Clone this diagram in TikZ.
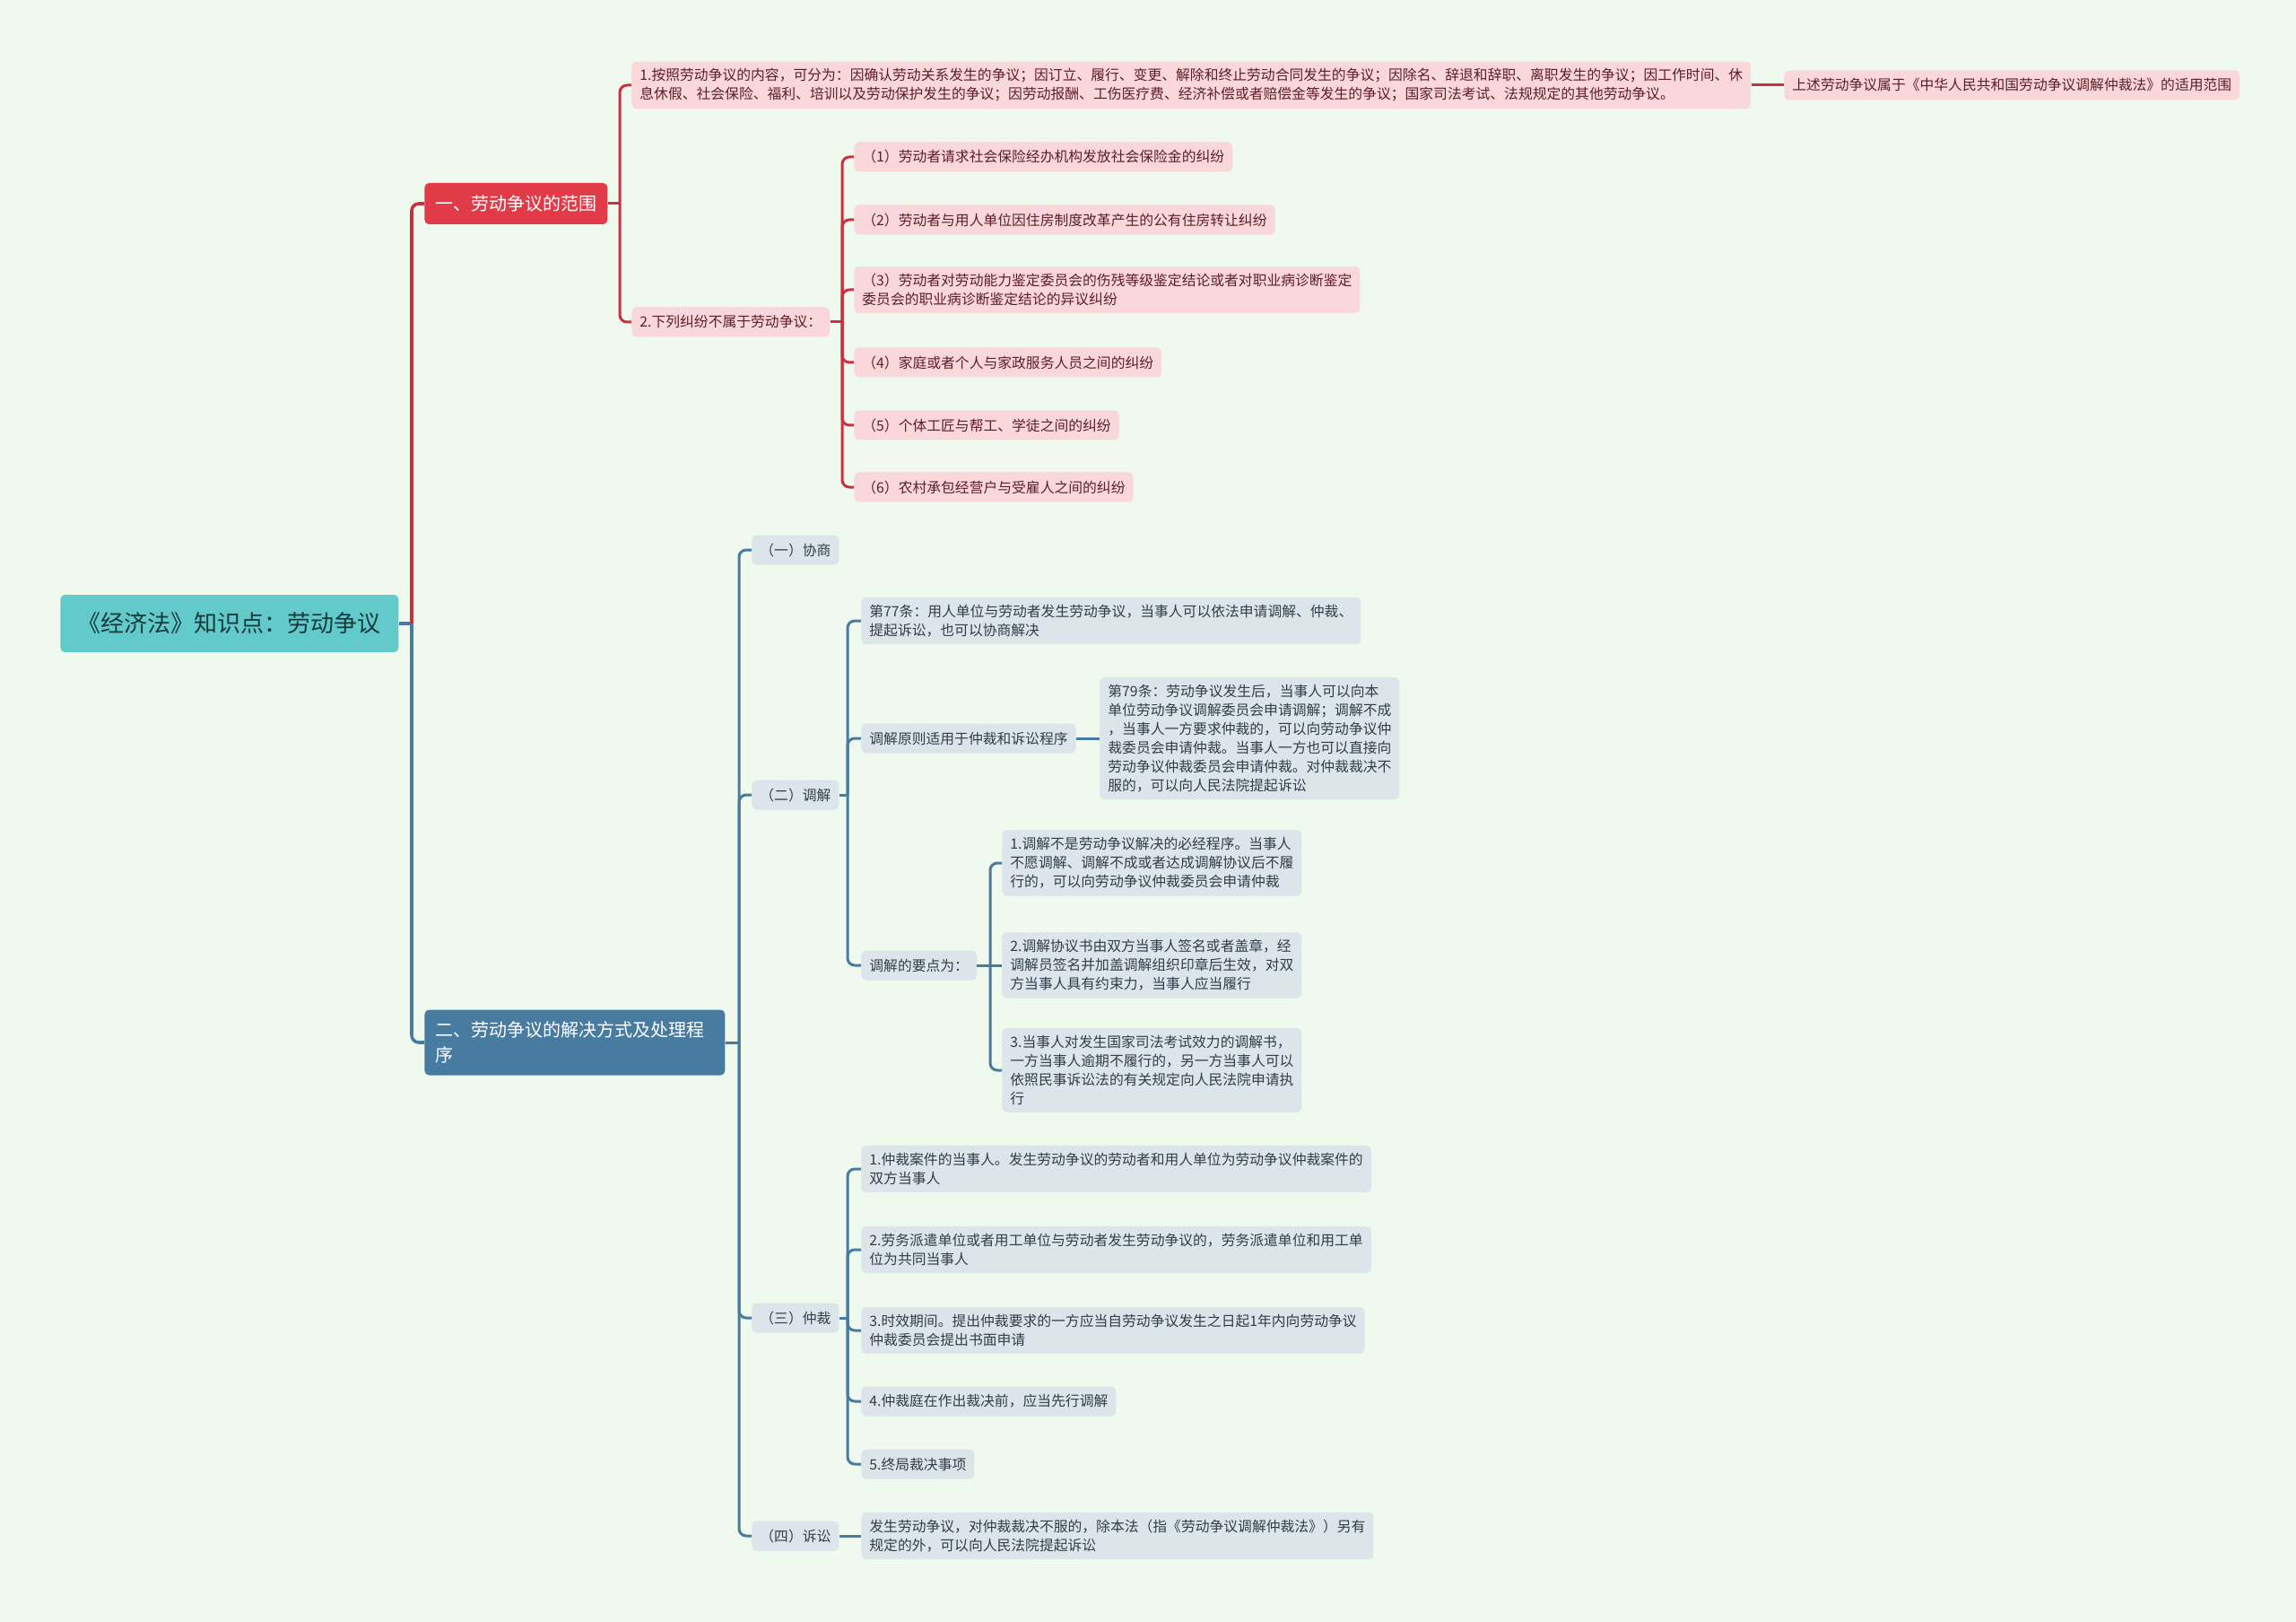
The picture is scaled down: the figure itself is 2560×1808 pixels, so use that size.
\documentclass[tikz,border=0pt]{standalone}
\usepackage{fontspec}
\setmainfont{Noto Sans CJK SC}

\definecolor{bgmint}{HTML}{F0F9EE}
\definecolor{rootfill}{HTML}{62CACB}
\definecolor{rootink}{HTML}{173A3B}
\definecolor{redfill}{HTML}{E23B48}
\definecolor{bluefill}{HTML}{487BA0}
\definecolor{pinkfill}{HTML}{FAD7DB}
\definecolor{pinkink}{HTML}{5C1F24}
\definecolor{greyfill}{HTML}{DCE5EA}
\definecolor{greyink}{HTML}{2F3E49}
\definecolor{redwire}{HTML}{C7323F}
\definecolor{bluewire}{HTML}{487BA0}

\tikzset{
	rootbox/.style={anchor=west,fill=rootfill,text=rootink,rounded corners=2.5pt,
		minimum width=188.5pt,minimum height=32pt,font=\fontsize{13}{15}\selectfont},
	redhead/.style={anchor=west,fill=redfill,text=white,rounded corners=2.5pt,
		minimum width=101.5pt,minimum height=23pt,inner xsep=6pt,font=\fontsize{10}{12}\selectfont},
	bluehead/.style={anchor=west,fill=bluefill,text=white,rounded corners=2.5pt,
		text width=155.5pt,align=left,minimum height=36.5pt,inner xsep=6pt,font=\fontsize{10}{14}\selectfont},
	pinkleaf/.style={anchor=west,fill=pinkfill,text=pinkink,rounded corners=2.5pt,
		align=left,inner xsep=4.5pt,inner ysep=4pt,minimum height=16.5pt,font=\fontsize{7.9}{10.5}\selectfont},
	greyleaf/.style={pinkleaf,fill=greyfill,text=greyink},
	redline/.style={draw=redwire,line width=1.5pt},
	blueline/.style={draw=bluewire,line width=1.5pt}
}

\begin{document}
\begin{tikzpicture}[x=0.5pt,y=-0.5pt]
	
	\fill[bgmint] (0,0) rectangle (2560,1808);
	\useasboundingbox (0,0) rectangle (2560,1808);
	
	\node[rootbox] (Root) at (67,695) {《经济法》知识点：劳动争议};
	\node[redhead] (B1) at (473,227) {一、劳动争议的范围};
	\node[bluehead] (B2) at (473,1162) {二、劳动争议的解决方式及处理程\\序};
	
	\coordinate (S0) at (459,695);
	\draw[blueline,line width=1.8pt] (Root.east) -- (S0);
	\draw[redline,line width=1.8pt,rounded corners=4pt] (S0) |- (B1.west);
	\draw[blueline,line width=1.8pt,rounded corners=4pt] (S0) |- (B2.west);
	
	% 一、范围
	{
		\node[pinkleaf] (A1) at (704,95) {1.按照劳动争议的内容，可分为：因确认劳动关系发生的争议；因订立、履行、变更、解除和终止劳动合同发生的争议；因除名、辞退和辞职、离职发生的争议；因工作时间、休\\息休假、社会保险、福利、培训以及劳动保护发生的争议；因劳动报酬、工伤医疗费、经济补偿或者赔偿金等发生的争议；国家司法考试、法规规定的其他劳动争议。};
		\node[pinkleaf] (A1x) at (1989,95) {上述劳动争议属于《中华人民共和国劳动争议调解仲裁法》的适用范围};
		\node[pinkleaf] (A2) at (704,359) {2.下列纠纷不属于劳动争议：};
		
		\node[pinkleaf] (N1) at (952,175) {（1）劳动者请求社会保险经办机构发放社会保险金的纠纷};
		\node[pinkleaf] (N2) at (952,245) {（2）劳动者与用人单位因住房制度改革产生的公有住房转让纠纷};
		\node[pinkleaf] (N3) at (952,323) {（3）劳动者对劳动能力鉴定委员会的伤残等级鉴定结论或者对职业病诊断鉴定\\委员会的职业病诊断鉴定结论的异议纠纷};
		\node[pinkleaf] (N4) at (952,404) {（4）家庭或者个人与家政服务人员之间的纠纷};
		\node[pinkleaf] (N5) at (952,474) {（5）个体工匠与帮工、学徒之间的纠纷};
		\node[pinkleaf] (N6) at (952,543) {（6）农村承包经营户与受雇人之间的纠纷};
		
		\coordinate (S1) at (691,227);
		\draw[redline] (B1.east) -- (S1);
		\foreach \c in {A1,A2}
		\draw[redline,rounded corners=4pt] (S1) |- (\c.west);
		\draw[redline] (A1.east) -- (A1x.west);
		
		\coordinate (S2) at (939,359);
		\draw[redline] (A2.east) -- (S2);
		\foreach \c in {N1,N2,N3,N4,N5,N6}
		\draw[redline,rounded corners=4pt] (S2) |- (\c.west);
	}
	
	% 二、解决方式
	{
		\node[greyleaf] (C1) at (838,613) {（一）协商};
		\node[greyleaf] (C2) at (838,886) {（二）调解};
		\node[greyleaf] (C3) at (838,1469) {（三）仲裁};
		\node[greyleaf] (C4) at (838,1712) {（四）诉讼};
		
		\coordinate (S3) at (824,1162);
		\draw[blueline] (B2.east) -- (S3);
		\foreach \c in {C1,C2,C3,C4}
		\draw[blueline,rounded corners=4pt] (S3) |- (\c.west);
		
		% 调解
		\node[greyleaf] (D1) at (960,692) {第77条：用人单位与劳动者发生劳动争议，当事人可以依法申请调解、仲裁、\\提起诉讼，也可以协商解决};
		\node[greyleaf] (D2) at (960,823) {调解原则适用于仲裁和诉讼程序};
		\node[greyleaf] (D2x) at (1226,823) {第79条：劳动争议发生后，当事人可以向本\\单位劳动争议调解委员会申请调解；调解不成\\，当事人一方要求仲裁的，可以向劳动争议仲\\裁委员会申请仲裁。当事人一方也可以直接向\\劳动争议仲裁委员会申请仲裁。对仲裁裁决不\\服的，可以向人民法院提起诉讼};
		\node[greyleaf] (D3) at (960,1076) {调解的要点为：};
		
		\node[greyleaf] (E1) at (1117,962) {1.调解不是劳动争议解决的必经程序。当事人\\不愿调解、调解不成或者达成调解协议后不履\\行的，可以向劳动争议仲裁委员会申请仲裁};
		\node[greyleaf] (E2) at (1117,1076) {2.调解协议书由双方当事人签名或者盖章，经\\调解员签名并加盖调解组织印章后生效，对双\\方当事人具有约束力，当事人应当履行};
		\node[greyleaf] (E3) at (1117,1193) {3.当事人对发生国家司法考试效力的调解书，\\一方当事人逾期不履行的，另一方当事人可以\\依照民事诉讼法的有关规定向人民法院申请执\\行};
		
		\coordinate (S4) at (945,886);
		\draw[blueline] (C2.east) -- (S4);
		\foreach \c in {D1,D2,D3}
		\draw[blueline,rounded corners=4pt] (S4) |- (\c.west);
		\draw[blueline] (D2.east) -- (D2x.west);
		
		\coordinate (S5) at (1104,1076);
		\draw[blueline] (D3.east) -- (E2.west);
		\foreach \c in {E1,E3}
		\draw[blueline,rounded corners=4pt] (S5) |- (\c.west);
		
		% 仲裁
		\node[greyleaf] (F1) at (960,1303) {1.仲裁案件的当事人。发生劳动争议的劳动者和用人单位为劳动争议仲裁案件的\\双方当事人};
		\node[greyleaf] (F2) at (960,1393) {2.劳务派遣单位或者用工单位与劳动者发生劳动争议的，劳务派遣单位和用工单\\位为共同当事人};
		\node[greyleaf] (F3) at (960,1483) {3.时效期间。提出仲裁要求的一方应当自劳动争议发生之日起1年内向劳动争议\\仲裁委员会提出书面申请};
		\node[greyleaf] (F4) at (960,1562) {4.仲裁庭在作出裁决前，应当先行调解};
		\node[greyleaf] (F5) at (960,1632) {5.终局裁决事项};
		
		\coordinate (S6) at (945,1469);
		\draw[blueline] (C3.east) -- (S6);
		\foreach \c in {F1,F2,F3,F4,F5}
		\draw[blueline,rounded corners=4pt] (S6) |- (\c.west);
		
		% 诉讼
		\node[greyleaf] (G1) at (960,1712) {发生劳动争议，对仲裁裁决不服的，除本法（指《劳动争议调解仲裁法》）另有\\规定的外，可以向人民法院提起诉讼};
		\draw[blueline] (C4.east) -- (G1.west);
	}
	
\end{tikzpicture}
\end{document}
